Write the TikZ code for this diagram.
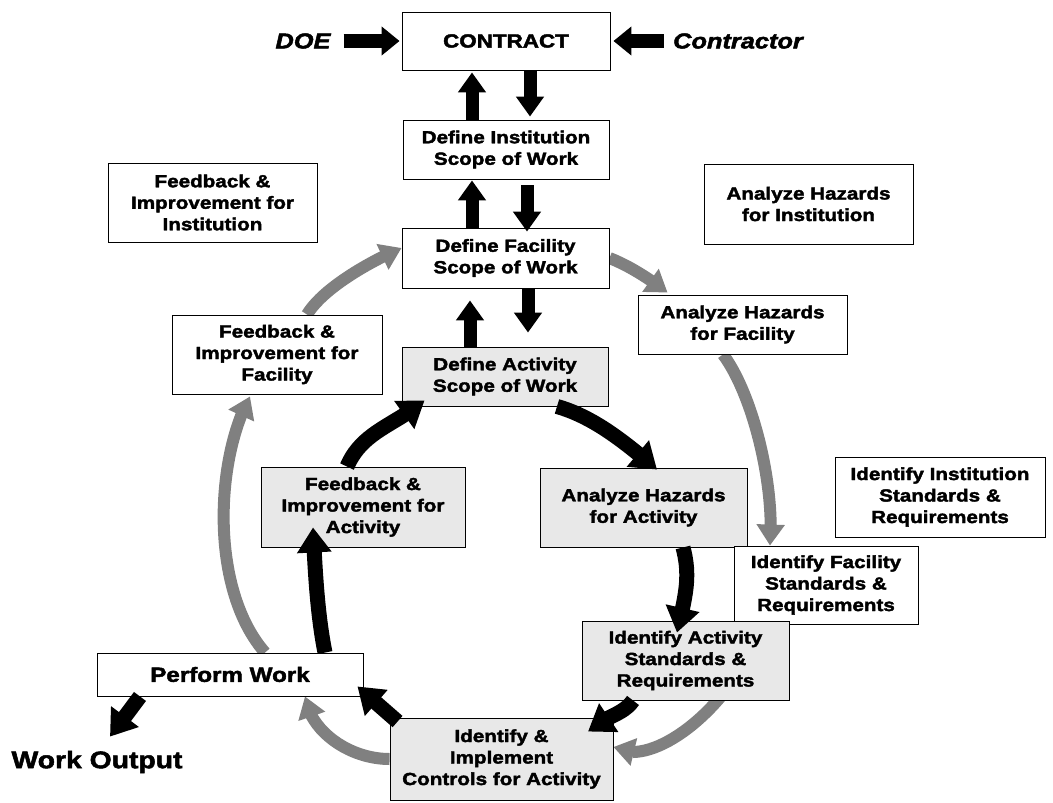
\documentclass[tikz,border=0pt]{standalone}
\usepackage{fontspec}
\setmainfont{Liberation Sans}[FakeStretch=1.18,FakeBold=2.2]
\usetikzlibrary{arrows.meta,bending}
\pgfdeclarelayer{bg}
\pgfsetlayers{bg,main}
\begin{document}
\begin{tikzpicture}[x=1pt,y=-1pt,
  box/.style={draw=black, line width=0.9pt, fill=white, align=center, inner sep=0pt, font=\bfseries\fontsize{17.5}{21.5}\selectfont},
  shaded/.style={box, fill=black!9},
  vblk/.style={draw=black, line width=13pt, -{Triangle[width=27pt,length=20pt]}},
  blk/.style={draw=black, line width=15pt, -{Triangle[width=33pt,length=25pt]}},
  grayarr/.style={draw=black!50, line width=12pt, -{Triangle[width=27pt,length=21pt]}},
  harr/.style={draw=black, line width=14pt, -{Triangle[width=28pt,length=18pt]}},
  lbl/.style={inner sep=0pt, font=\bfseries\itshape\fontsize{21.5}{24}\selectfont}
]
\useasboundingbox (0,0) rectangle (1053,803);

\node[box, minimum width=208pt, minimum height=58pt, font=\bfseries\fontsize{19}{22}\selectfont] (contract) at (506,41) {CONTRACT};
\node[lbl] (doe) at (303,41) {DOE};
\node[lbl] (contractor) at (738,41) {Contractor};
\node[box, minimum width=206pt, minimum height=59pt] (inst) at (506,149.5) {Define Institution\\Scope of Work};
\node[box, minimum width=207pt, minimum height=60pt] (fac) at (505.5,258) {Define Facility\\Scope of Work};
\node[shaded, minimum width=206pt, minimum height=59pt] (act) at (505,376.5) {Define Activity\\Scope of Work};
\node[box, minimum width=209pt, minimum height=79pt] (fbinst) at (212.5,202.5) {Feedback \&\\Improvement for\\Institution};
\node[box, minimum width=210pt, minimum height=79pt] (fbfac) at (277,354.5) {Feedback \&\\Improvement for\\Facility};
\node[shaded, minimum width=204pt, minimum height=80pt] (fbact) at (363,507) {Feedback \&\\Improvement for\\Activity};
\node[box, minimum width=209pt, minimum height=80pt] (ahinst) at (808.5,204) {Analyze Hazards\\for Institution};
\node[box, minimum width=209pt, minimum height=59pt] (ahfac) at (742.5,324.5) {Analyze Hazards\\for Facility};
\node[shaded, minimum width=207pt, minimum height=79pt] (ahact) at (643.5,507.5) {Analyze Hazards\\for Activity};
\node[box, minimum width=210pt, minimum height=80pt] (isinst) at (940,497) {Identify Institution\\Standards \&\\Requirements};
\node[box, minimum width=184pt, minimum height=78pt] (isfac) at (826,585) {Identify Facility\\Standards \&\\Requirements};
\node[shaded, minimum width=207pt, minimum height=79pt] (isact) at (685.5,660.5) {Identify Activity\\Standards \&\\Requirements};
\node[shaded, minimum width=223pt, minimum height=82pt] (ii) at (501.5,759) {Identify \&\\Implement\\Controls for Activity};
\node[box, minimum width=266pt, minimum height=43pt, font=\bfseries\fontsize{20.5}{24}\selectfont] (perform) at (230,674.5) {Perform Work};
\node[inner sep=0pt, font=\bfseries\fontsize{24}{27}\selectfont] (wo) at (97,762) {Work Output};

\begin{pgfonlayer}{bg}
\fill[white] (0,0) rectangle (1053,803);
\draw[grayarr] (fac.east) .. controls +(20,8) and +(-20,-15) .. ([xshift=30pt,yshift=2pt]ahfac.north west);
\draw[grayarr] ([xshift=-19.5pt]ahfac.south) .. controls +(30,40) and +(5,-60) .. ([xshift=-56pt]isfac.north);
\draw[grayarr] ([xshift=-66pt]isfac.south) .. controls +(-20,75) and +(40,25) .. ([yshift=12pt]ii.east);
\draw[grayarr] (ii.west) .. controls +(-40,0) and +(5,35) .. ([xshift=75pt]perform.south);
\draw[grayarr] ([xshift=35pt]perform.north) .. controls +(-55,-63) and +(-35,64) .. ([xshift=-27pt,yshift=-2pt]fbfac.south);
\draw[grayarr] ([xshift=30pt]fbfac.north) .. controls +(15,-25) and +(-35,15) .. ([yshift=10pt]fac.west);
\end{pgfonlayer}

% vertical arrows
\draw[vblk, shorten >=2pt] ([xshift=-34pt]inst.north) -- ([xshift=-34pt]contract.south);
\draw[vblk, shorten >=3pt] ([xshift=24pt]contract.south) -- ([xshift=24pt]inst.north);
\draw[vblk, shorten >=1pt] ([xshift=-33.5pt]fac.north) -- ([xshift=-34pt]inst.south);
\draw[vblk, shorten <=6pt, shorten >=-4pt] ([xshift=21pt]inst.south) -- ([xshift=21.5pt]fac.north);
\draw[vblk, shorten >=12pt] ([xshift=-35pt]act.north) -- ([xshift=-35.5pt]fac.south);
\draw[vblk, shorten >=14pt] ([xshift=22.5pt]fac.south) -- ([xshift=23pt]act.north);

% horizontal arrows
\draw[harr, shorten <=13pt, shorten >=2pt] (doe.east) -- (doe.east -| contract.west);
\draw[harr, shorten <=9pt, shorten >=3pt] (contractor.west) -- (contractor.west -| contract.east);

% activity loop
\draw[blk] ([xshift=52pt]act.south) .. controls +(35,10) and +(-35,-30) .. ([xshift=13.5pt,yshift=-2pt]ahact.north);
\draw[blk] ([xshift=39.5pt]ahact.south) .. controls +(8,30) and +(8,-35) .. ([xshift=-8.5pt,yshift=-12pt]isact.north);
\draw[blk] ([xshift=-52.5pt]isact.south) .. controls +(-10,15) and +(15,-15) .. ([xshift=86.5pt,yshift=-14pt]ii.north);
\draw[blk] ([xshift=8pt,yshift=-4pt]ii.north west) -- ([xshift=-6pt,yshift=10pt]perform.south east);
\draw[blk] ([xshift=95pt]perform.north) .. controls +(-8,-40) and +(2,40) .. ([xshift=-50pt,yshift=20pt]fbact.south);
\draw[blk] ([xshift=-16pt]fbact.north) .. controls +(15,-35) and +(-30,25) .. ([xshift=23pt,yshift=6pt]act.south west);
\draw[blk] ([xshift=-90pt]perform.south) -- ([xshift=13pt,yshift=14pt]wo.north);
\end{tikzpicture}
\end{document}
